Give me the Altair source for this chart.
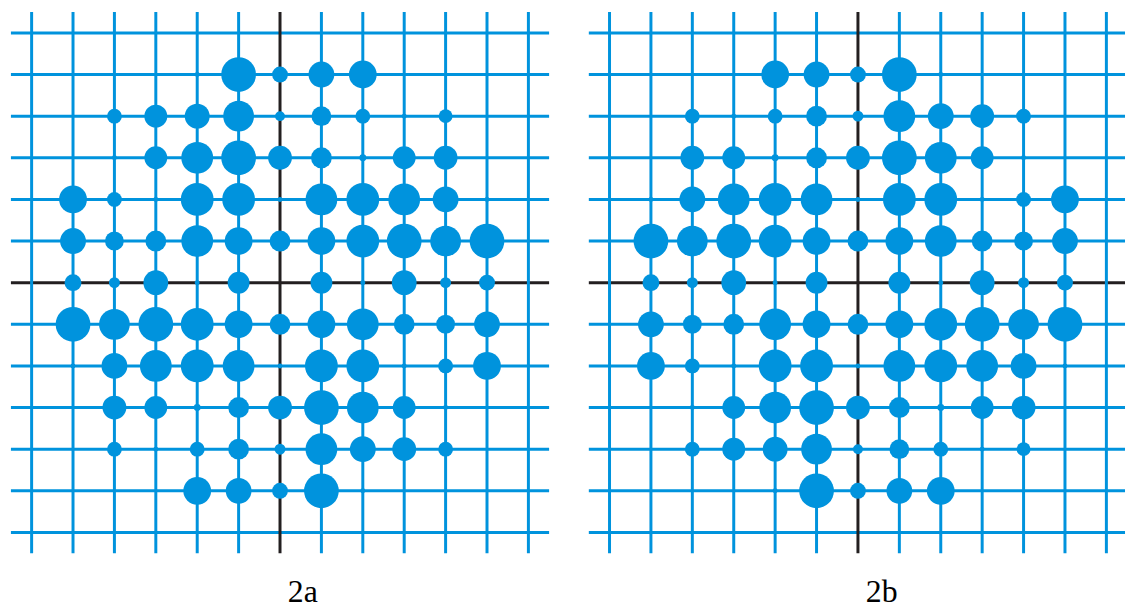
import altair as alt
import pandas as pd

BLUE = "#0093dd"
INK = "#231f20"

# Grid lines at integer positions; dots sit on the crossings
line_positions = list(range(-6, 7))
columns = list(range(-6, 7))          # left to right
rows = list(range(5, -6, -1))         # top to bottom

# Dot diameters (px) at each crossing: one list per row, top row first
dots_2a = [
    [0, 0, 0, 0, 5, 35, 16, 26, 28, 0, 0, 0, 0],
    [0, 0, 15, 23, 25, 31, 10, 20, 15, 5, 14, 0, 0],
    [0, 0, 5, 23, 32, 35, 24, 21, 7, 23, 24, 0, 0],
    [0, 28, 15, 5, 33, 33, 5, 32, 33, 32, 26, 5, 0],
    [0, 26, 19, 21, 32, 28, 21, 28, 33, 35, 31, 35, 0],
    [0, 17, 11, 25, 5, 22, 0, 22, 5, 25, 11, 16, 0],
    [0, 35, 31, 35, 33, 28, 21, 28, 32, 21, 19, 26, 0],
    [0, 5, 26, 32, 33, 32, 5, 33, 33, 5, 15, 28, 0],
    [0, 0, 24, 23, 7, 21, 24, 35, 32, 23, 5, 0, 0],
    [0, 0, 15, 5, 15, 21, 11, 32, 26, 24, 15, 0, 0],
    [0, 0, 0, 0, 28, 26, 16, 35, 5, 0, 0, 0, 0],
]

dots_2b = [
    [0, 0, 0, 0, 28, 26, 16, 35, 5, 0, 0, 0, 0],
    [0, 0, 15, 5, 15, 21, 11, 32, 26, 24, 15, 0, 0],
    [0, 0, 24, 23, 7, 21, 24, 35, 32, 23, 5, 0, 0],
    [0, 5, 26, 32, 33, 32, 5, 33, 33, 5, 15, 28, 0],
    [0, 35, 31, 35, 33, 28, 21, 28, 32, 21, 19, 26, 0],
    [0, 17, 11, 25, 5, 22, 0, 22, 5, 25, 11, 16, 0],
    [0, 26, 19, 21, 32, 28, 21, 28, 33, 35, 31, 35, 0],
    [0, 28, 15, 5, 33, 33, 5, 32, 33, 32, 26, 5, 0],
    [0, 0, 5, 23, 32, 35, 24, 21, 7, 23, 24, 0, 0],
    [0, 0, 15, 23, 25, 31, 10, 20, 15, 5, 14, 0, 0],
    [0, 0, 0, 0, 5, 35, 16, 26, 28, 0, 0, 0, 0],
]

PANEL_H = 545


def dot_table(dots):
    recs = []
    for r, row_vals in zip(rows, dots):
        for c, d in zip(columns, row_vals):
            if d > 0:
                recs.append({"col": c, "row": r, "d": d})
    return pd.DataFrame(recs)


def panel(label, dots, width, x_max, label_x):
    xs = alt.Scale(domain=[-6.5, x_max], nice=False, zero=False)
    ys = alt.Scale(domain=[-6.5, 6.5], nice=False, zero=False)
    lines = pd.DataFrame({"pos": line_positions})
    base = alt.Chart(lines)

    h_blue = base.transform_filter("datum.pos != 0").mark_rule(
        color=BLUE, strokeWidth=3
    ).encode(
        y=alt.Y("pos:Q", scale=ys, axis=None),
        x=alt.value(0), x2=alt.value(width),
    )
    h_axis = base.transform_filter("datum.pos == 0").mark_rule(
        color=INK, strokeWidth=3
    ).encode(
        y=alt.Y("pos:Q", scale=ys, axis=None),
        x=alt.value(0), x2=alt.value(width),
    )
    v_axis = base.transform_filter("datum.pos == 0").mark_rule(
        color=INK, strokeWidth=3
    ).encode(
        x=alt.X("pos:Q", scale=xs, axis=None),
        y=alt.value(0), y2=alt.value(PANEL_H),
    )
    v_blue = base.transform_filter("datum.pos != 0").mark_rule(
        color=BLUE, strokeWidth=3
    ).encode(
        x=alt.X("pos:Q", scale=xs, axis=None),
        y=alt.value(0), y2=alt.value(PANEL_H),
    )
    circles = alt.Chart(dot_table(dots)).mark_circle(
        color=BLUE, opacity=1
    ).encode(
        x=alt.X("col:Q", scale=xs, axis=None),
        y=alt.Y("row:Q", scale=ys, axis=None),
        size=alt.Size(
            "d:Q",
            scale=alt.Scale(type="pow", exponent=2, domain=[0, 36], range=[0, 1296]),
            legend=None,
        ),
    )
    caption = alt.Chart(pd.DataFrame({"label": [label]})).mark_text(
        font="Liberation Serif", fontSize=32, color="black",
        align="center", baseline="alphabetic",
    ).encode(
        text="label:N",
        x=alt.value(label_x),
        y=alt.value(594),
    )
    return alt.layer(h_blue, h_axis, v_axis, v_blue, circles, caption).properties(
        width=width, height=PANEL_H
    )


left = panel("2a", dots_2a, 542, 6.5, 294)
right = panel("2b", dots_2b, 540, 6.45, 295)

chart = alt.hconcat(left, right, spacing=36).properties(
    padding={"left": 9, "top": 8, "right": 0, "bottom": 0}
).configure_view(stroke=None)

chart.save("out.html", embed_options={"renderer": "svg", "actions": False})
